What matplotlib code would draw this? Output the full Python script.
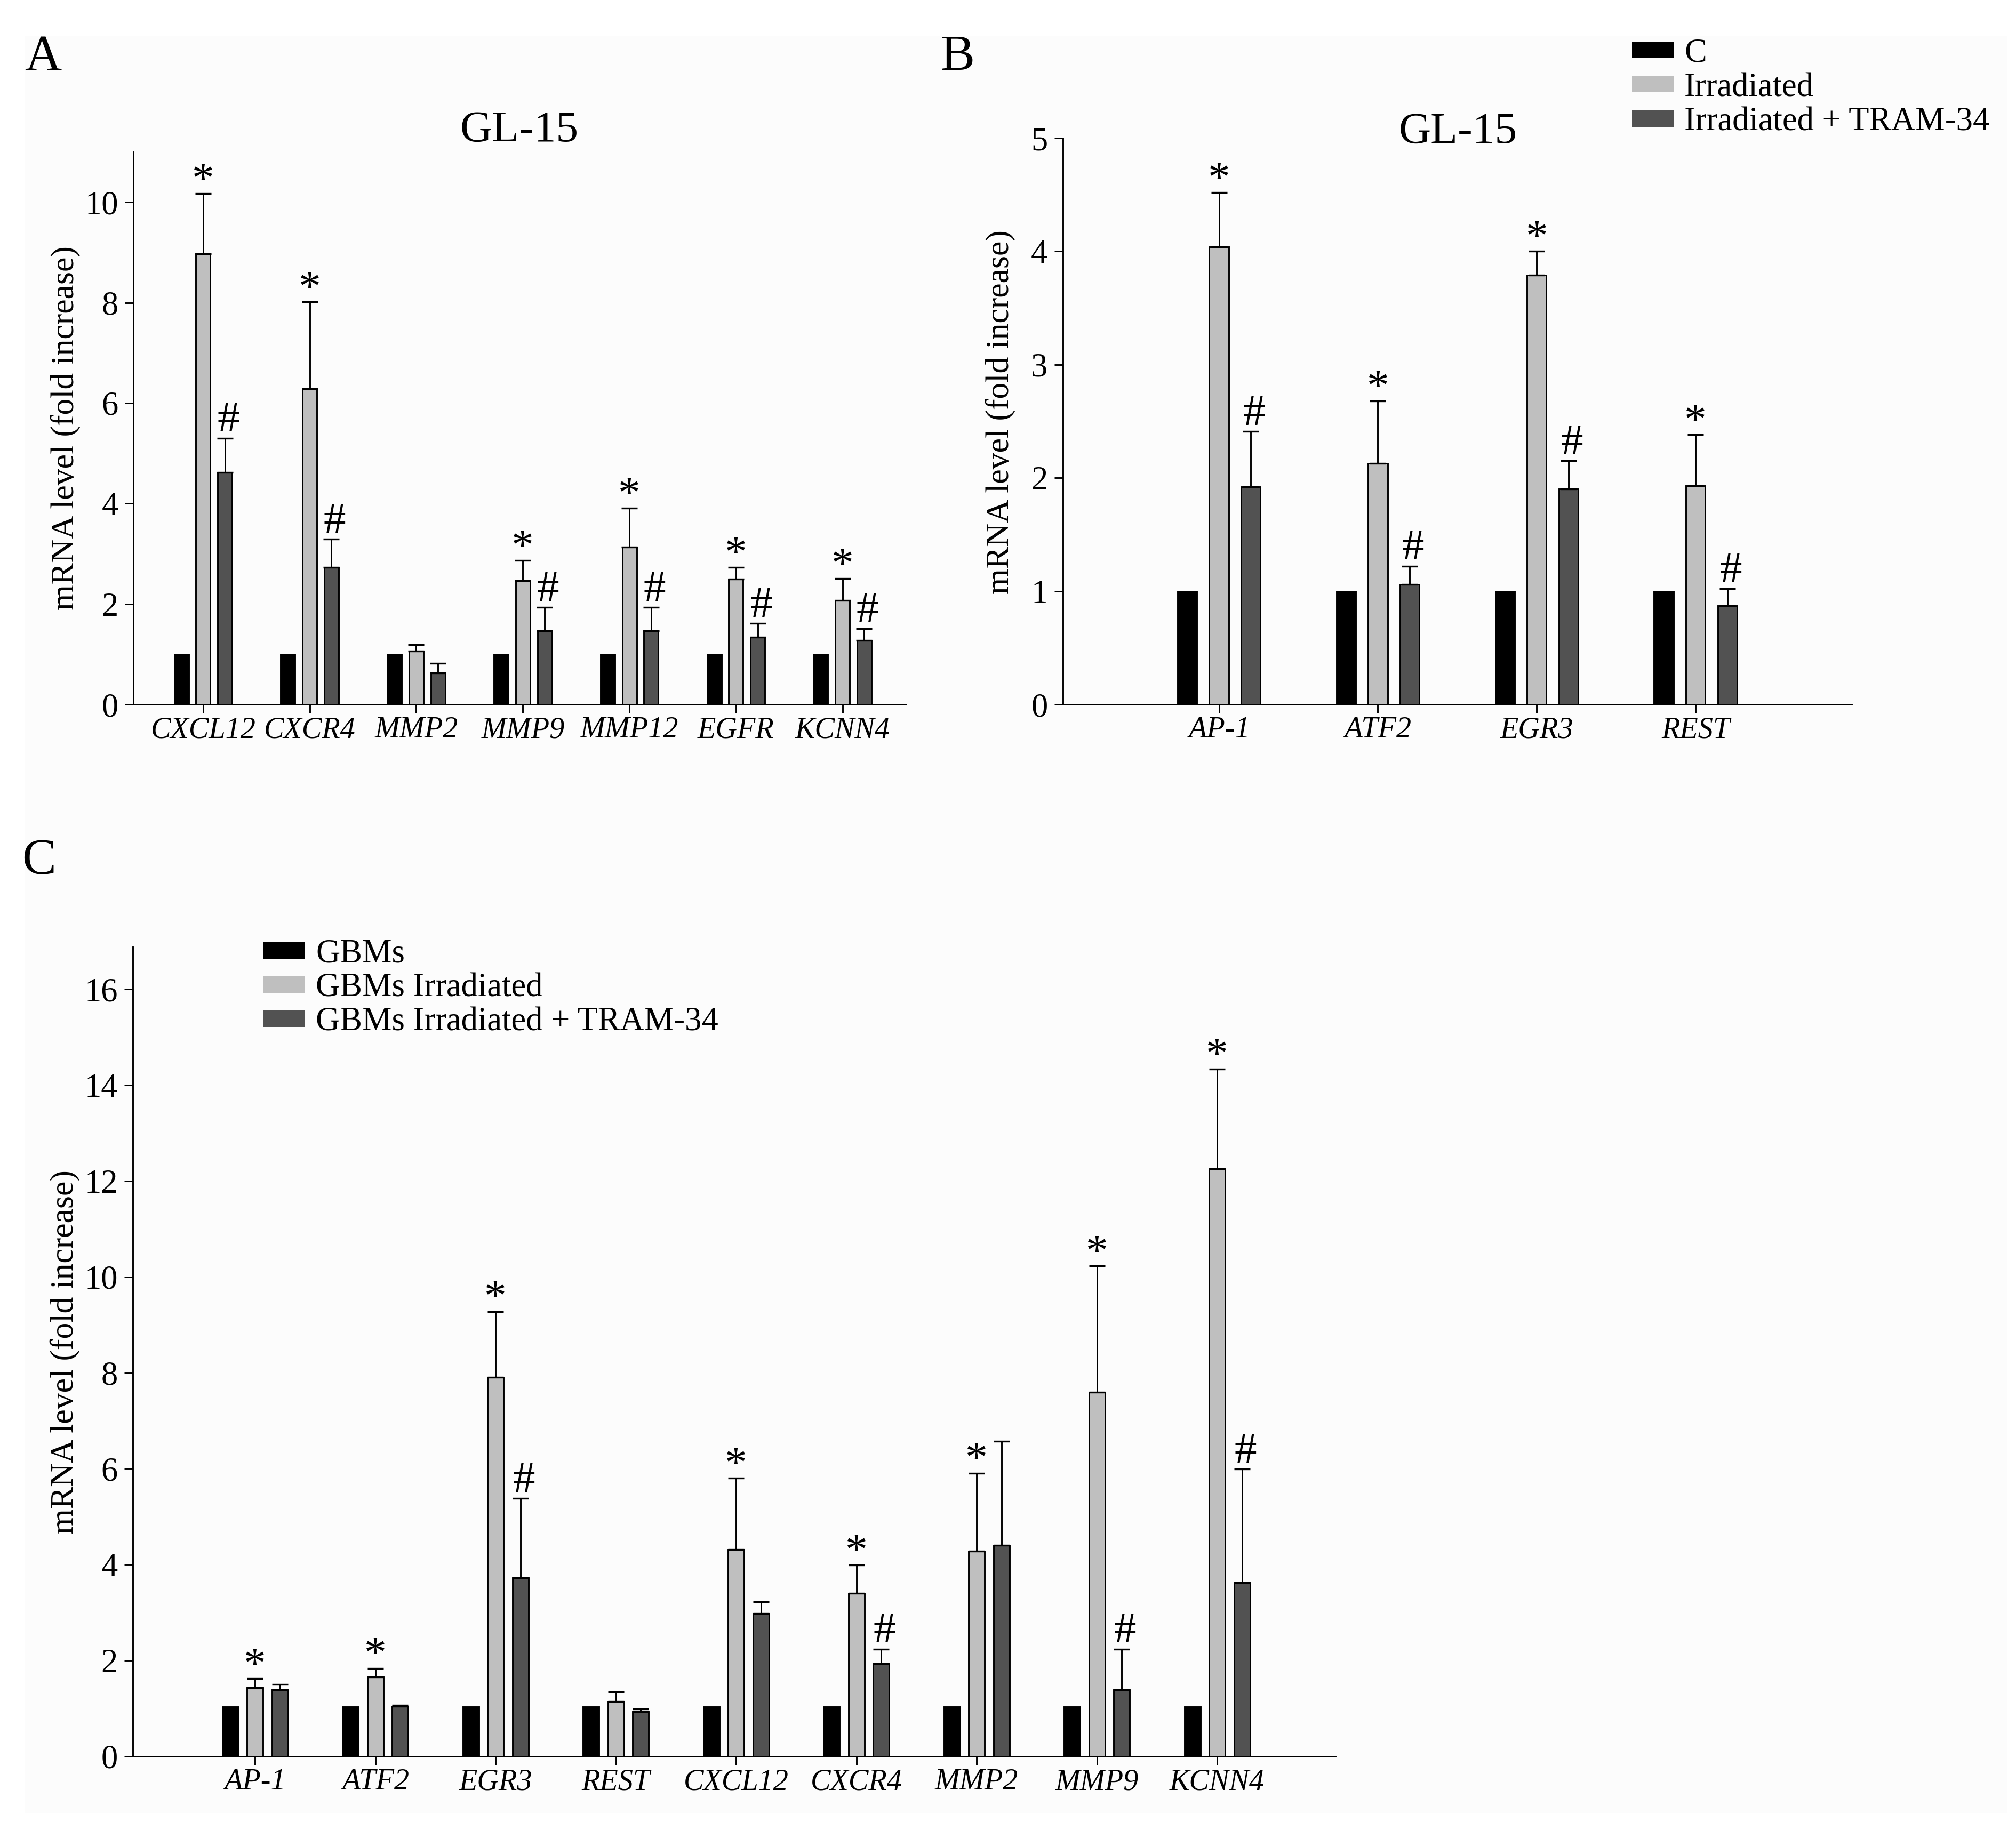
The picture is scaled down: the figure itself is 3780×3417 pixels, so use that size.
import numpy as np
import matplotlib
matplotlib.use("Agg")
import matplotlib.pyplot as plt
from matplotlib.patches import Patch, Rectangle

plt.rcParams['font.family'] = ['Liberation Serif', 'DejaVu Serif']

# ---------------- data ----------------
A_genes = ["CXCL12", "CXCR4", "MMP2", "MMP9", "MMP12", "EGFR", "KCNN4"]
A_ctrl = [1, 1, 1, 1, 1, 1, 1]
A_irr = [8.97, 6.29, 1.06, 2.46, 3.13, 2.49, 2.07]
A_irr_err = [1.20, 1.73, 0.13, 0.41, 0.78, 0.24, 0.44]
A_tram = [4.62, 2.73, 0.63, 1.47, 1.47, 1.34, 1.27]
A_tram_err = [0.68, 0.56, 0.19, 0.46, 0.46, 0.27, 0.24]
A_star = [1, 1, 0, 1, 1, 1, 1]
A_hash = [1, 1, 0, 1, 1, 1, 1]

B_genes = ["AP-1", "ATF2", "EGR3", "REST"]
B_ctrl = [1, 1, 1, 1]
B_irr = [4.04, 2.13, 3.79, 1.93]
B_irr_err = [0.48, 0.55, 0.21, 0.45]
B_tram = [1.92, 1.06, 1.90, 0.87]
B_tram_err = [0.49, 0.16, 0.25, 0.15]
B_star = [1, 1, 1, 1]
B_hash = [1, 1, 1, 1]

C_genes = ["AP-1", "ATF2", "EGR3", "REST", "CXCL12", "CXCR4", "MMP2", "MMP9", "KCNN4"]
C_ctrl = [1.03, 1.03, 1.03, 1.03, 1.03, 1.03, 1.03, 1.03, 1.03]
C_irr = [1.43, 1.66, 7.91, 1.15, 4.32, 3.40, 4.28, 7.60, 12.25]
C_irr_err = [0.19, 0.18, 1.37, 0.19, 1.48, 0.59, 1.63, 2.63, 2.09]
C_tram = [1.39, 1.05, 3.73, 0.93, 2.98, 1.93, 4.40, 1.39, 3.62]
C_tram_err = [0.11, 0.02, 1.65, 0.06, 0.24, 0.31, 2.17, 0.85, 2.37]
C_star = [1, 1, 1, 0, 1, 1, 1, 1, 1]
C_hash = [0, 0, 1, 0, 0, 1, 0, 1, 1]

labels_AB = ["C", "Irradiated", "Irradiated + TRAM-34"]
labels_C = ["GBMs", "GBMs Irradiated", "GBMs Irradiated + TRAM-34"]
ylabel = "mRNA level (fold increase)"
title_AB = "GL-15"

# ---------------- style ----------------
COL = ["#000000", "#bfbfbf", "#525252"]
LW = 0.7

fig = plt.figure(figsize=(12.6, 11.39), dpi=300)
# faint off-white panel background of the original figure
fig.patches.append(Rectangle((47 / 3780, 17 / 3417), (3763 - 47) / 3780,
                             (3350 - 17) / 3417, transform=fig.transFigure,
                             facecolor="#fcfcfc", edgecolor="none", zorder=-10))


def panel(rect, genes, ctrl, irr, irr_err, tram, tram_err, star, hsh,
          ylim, yticks, xpad, off, width):
    ax = fig.add_axes(rect)
    x = np.arange(len(genes))
    series = [(ctrl, None), (irr, irr_err), (tram, tram_err)]
    for i, (vals, err) in enumerate(series):
        xs = x + (i - 1) * off
        ax.bar(xs, vals, width=width, color=COL[i], edgecolor="black",
               linewidth=LW, zorder=2)
        if err is not None:
            ax.errorbar(xs, vals, yerr=[np.zeros(len(vals)), err], fmt="none",
                        ecolor="black", elinewidth=LW, capsize=3.6,
                        capthick=0.8, zorder=3)
    for j in range(len(genes)):
        if star[j]:
            ax.annotate("*", (x[j], irr[j] + irr_err[j]), xytext=(0, 0.5),
                        textcoords="offset points", ha="center", va="baseline",
                        fontsize=20)
        if hsh[j]:
            ax.annotate("#", (x[j] + off, tram[j] + tram_err[j]), xytext=(1.5, 3),
                        textcoords="offset points", ha="center", va="baseline",
                        fontsize=20)
    ax.set_xlim(-xpad[0], len(genes) - 1 + xpad[1])
    ax.set_ylim(*ylim)
    ax.set_yticks(yticks)
    ax.set_xticks(x)
    ax.set_xticklabels(genes, fontstyle="italic", fontsize=13.5)
    ax.tick_params(axis="y", labelsize=15, length=3.8, width=LW, pad=3)
    ax.tick_params(axis="x", length=3.8, width=LW, pad=1.5)
    for s in ["top", "right"]:
        ax.spines[s].set_visible(False)
    for s in ["left", "bottom"]:
        ax.spines[s].set_linewidth(LW)
    ax.set_facecolor("none")
    ax.set_ylabel(ylabel, fontsize=14.8, labelpad=2)
    return ax


axA = panel([0.0661, 0.6134, 0.3833, 0.3032], A_genes, A_ctrl, A_irr, A_irr_err,
            A_tram, A_tram_err, A_star, A_hash, (0, 11), range(0, 11, 2),
            (0.656, 0.596), 0.204, 0.135)
axB = panel([0.5272, 0.6134, 0.3913, 0.3108], B_genes, B_ctrl, B_irr, B_irr_err,
            B_tram, B_tram_err, B_star, B_hash, (0, 5), range(0, 6),
            (0.983, 0.983), 0.2, 0.122)
axC = panel([0.0659, 0.0360, 0.5966, 0.4442], C_genes, C_ctrl, C_irr, C_irr_err,
            C_tram, C_tram_err, C_star, C_hash, (0, 16.88), range(0, 17, 2),
            (1.016, 0.985), 0.206, 0.133)
axB.yaxis.set_label_coords(-0.06, 0.516)

# titles and panel letters
fig.text(0.2577, 0.9224, title_AB, ha="center", va="baseline", fontsize=20)
fig.text(0.7233, 0.9216, title_AB, ha="center", va="baseline", fontsize=20)
fig.text(0.0122, 0.9614, "A", fontsize=23, va="baseline")
fig.text(0.4664, 0.9614, "B", fontsize=23, va="baseline")
fig.text(0.0108, 0.5203, "C", fontsize=23, va="baseline")

# legends
hB = [Patch(facecolor=c, edgecolor="none") for c in COL]
fig.legend(hB, labels_AB, loc="upper left", bbox_to_anchor=(0.8095, 0.979),
           bbox_transform=fig.transFigure, frameon=False, fontsize=15,
           borderpad=0, borderaxespad=0, handlelength=1.25, handleheight=0.4,
           handletextpad=0.32, labelspacing=0.1)
fig.legend(hB, labels_C, loc="upper left", bbox_to_anchor=(0.1307, 0.4849),
           bbox_transform=fig.transFigure, frameon=False, fontsize=15,
           borderpad=0, borderaxespad=0, handlelength=1.25, handleheight=0.4,
           handletextpad=0.32, labelspacing=0.1)

fig.savefig("out.png", dpi=300, facecolor="white")
